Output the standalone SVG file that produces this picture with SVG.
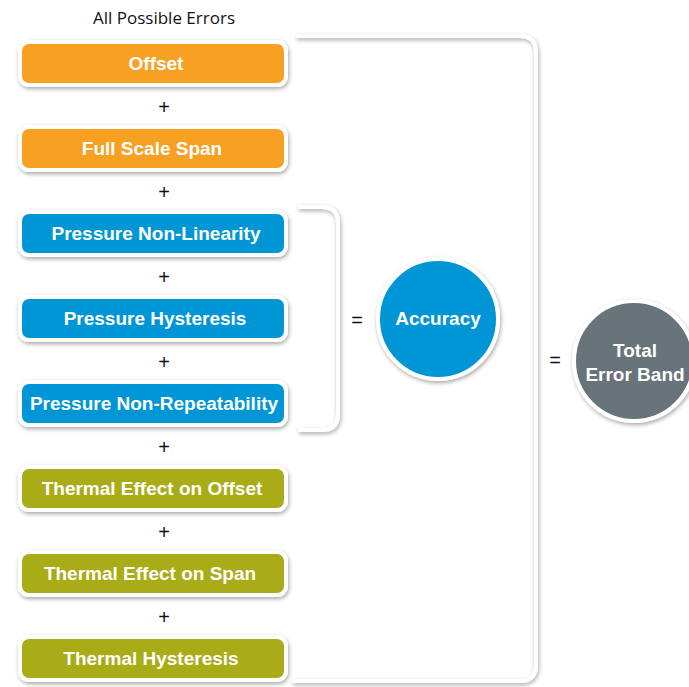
<svg xmlns="http://www.w3.org/2000/svg" width="689" height="687" viewBox="0 0 689 687">
<defs>
<filter id="sh" x="-20%" y="-20%" width="140%" height="150%">
<feGaussianBlur in="SourceAlpha" stdDeviation="2"/>
<feOffset dx="1" dy="2" result="b"/>
<feComponentTransfer><feFuncA type="linear" slope="0.35"/></feComponentTransfer>
<feMerge><feMergeNode/><feMergeNode in="SourceGraphic"/></feMerge>
</filter>
<style>
.box{stroke:#fff;stroke-width:4;filter:url(#sh)}
.or{fill:#F7A021}.bl{fill:#0096D6}.ol{fill:#A9AC18}.gr{fill:#69737A}
.t{font-family:"Liberation Sans",Arial,sans-serif;font-weight:bold;font-size:19px;fill:#fff;text-anchor:middle}
.op{font-family:"Liberation Sans",Arial,sans-serif;font-size:20px;fill:#111;text-anchor:middle}
.br{fill:none;stroke:#fff;stroke-width:4;filter:url(#sh)}
</style>
</defs>
<rect width="689" height="687" fill="#fff"/>
<text x="164" y="24" font-family="'Open Sans','Liberation Sans',sans-serif" font-size="17" fill="#111" text-anchor="middle">All Possible Errors</text>
<g id="connectors">
<path class="br" d="M296,36 H520 Q536,36 536,52 V665 Q536,681 520,681 H292"/>
<path class="br" d="M298,207 H322 Q338,207 338,223 V414 Q338,430 322,430 H298"/>
<text class="op" x="164" y="114">+</text>
<text class="op" x="164" y="199">+</text>
<text class="op" x="164" y="284">+</text>
<text class="op" x="164" y="369">+</text>
<text class="op" x="164" y="454">+</text>
<text class="op" x="164" y="539">+</text>
<text class="op" x="164" y="624">+</text>
<text class="op" x="357" y="327">=</text>
<text class="op" x="555" y="367">=</text>
</g>
<g id="n1"><rect class="box or" x="20" y="42" width="266" height="43" rx="9"/><text class="t" x="156" y="70">Offset</text></g>
<g id="n2"><rect class="box or" x="20" y="127" width="266" height="43" rx="9"/><text class="t" x="152" y="155">Full Scale Span</text></g>
<g id="n3"><rect class="box bl" x="20" y="212" width="266" height="43" rx="9"/><text class="t" x="156" y="240">Pressure Non-Linearity</text></g>
<g id="n4"><rect class="box bl" x="20" y="297" width="266" height="43" rx="9"/><text class="t" x="155" y="325">Pressure Hysteresis</text></g>
<g id="n5"><rect class="box bl" x="20" y="382" width="266" height="43" rx="9"/><text class="t" x="154" y="410">Pressure Non-Repeatability</text></g>
<g id="n6"><rect class="box ol" x="20" y="467" width="266" height="43" rx="9"/><text class="t" x="152" y="495">Thermal Effect on Offset</text></g>
<g id="n7"><rect class="box ol" x="20" y="552" width="266" height="43" rx="9"/><text class="t" x="150" y="580">Thermal Effect on Span</text></g>
<g id="n8"><rect class="box ol" x="20" y="637" width="266" height="43" rx="9"/><text class="t" x="151" y="665">Thermal Hysteresis</text></g>
<g id="accuracy"><circle class="box bl" cx="438" cy="319" r="60"/><text class="t" x="438" y="325">Accuracy</text></g>
<g id="total"><circle class="box gr" cx="634" cy="361" r="60"/><text class="t" x="635" y="357">Total</text><text class="t" x="635" y="381">Error Band</text></g>
</svg>
